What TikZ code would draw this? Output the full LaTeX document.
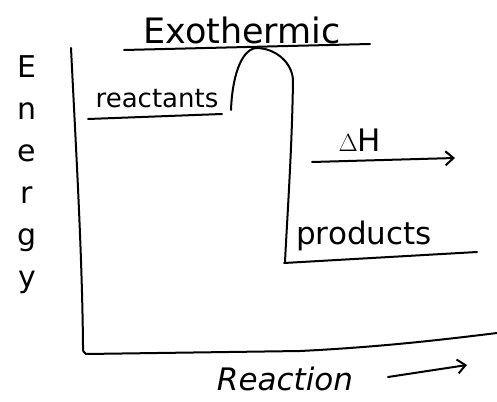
\documentclass[tikz,border=0pt]{standalone}
\usepackage{fontspec}
\setmainfont{DejaVu Sans}
\usetikzlibrary{arrows.meta}
\begin{document}
\begin{tikzpicture}[x=1pt,y=-1pt,
  ink/.style={line width=2pt,line cap=round,line join=round,black},
  lbl/.style={inner sep=0pt},
  arr/.style={ink,-{Straight Barb[length=8pt,width=14pt,line width=2pt]}}]
\useasboundingbox (0,0) rectangle (497,401);
% axes
\coordinate (ytop) at (71,48);
\coordinate (origin) at (86,354);
\coordinate (xend) at (497,333);
\draw[ink] (ytop) .. controls (76,150) and (82,250) .. (83,345) .. controls (83,352) .. (origin)
  -- (300,351) .. controls (380,347) and (440,340) .. (xend);
% axis labels
\node[lbl,align=center,font=\fontsize{30}{42}\selectfont] (energy) at (27,175) {E\\n\\e\\r\\g\\y};
\node[lbl,font=\fontsize{31}{34}\selectfont\itshape] (reaction) at (285,379) {Reaction};
\coordinate (ra1) at (388,377);
\coordinate (ra2) at (467,365);
\draw[arr] (ra1) -- (ra2);
% energy profile
\node[lbl,font=\fontsize{26}{28}\selectfont] (reactants) at (157,99) {reactants};
\coordinate (r1) at (88,119);
\coordinate (r2) at (222,114);
\draw[ink] (r1) -- (r2);
\coordinate (c0) at (231,110);
\coordinate (peak) at (256,48);
\coordinate (c1) at (293,80);
\coordinate (c2) at (285,262);
\draw[ink] (c0) .. controls (232,80) and (240,50) .. (peak)
  .. controls (275,48) and (292,62) .. (c1)
  .. controls (292,150) and (287,220) .. (c2);
\node[lbl,font=\fontsize{31}{34}\selectfont] (products) at (364,236) {products};
\coordinate (p1) at (284,263);
\coordinate (p2) at (477,252);
\draw[ink] (p1) -- (p2);
% title
\node[lbl,font=\fontsize{35}{38}\selectfont] (title) at (242,30) {Exothermic};
\coordinate (t1) at (124,50);
\coordinate (t2) at (370,44);
\draw[ink] (t1) -- (t2);
% enthalpy change
\node[lbl,font=\fontsize{31}{32}\selectfont] (dh) at (360,140) {$\Delta$H};
\coordinate (h1) at (312,162);
\coordinate (h2) at (455,158);
\draw[arr] (h1) -- (h2);
\end{tikzpicture}
\end{document}
